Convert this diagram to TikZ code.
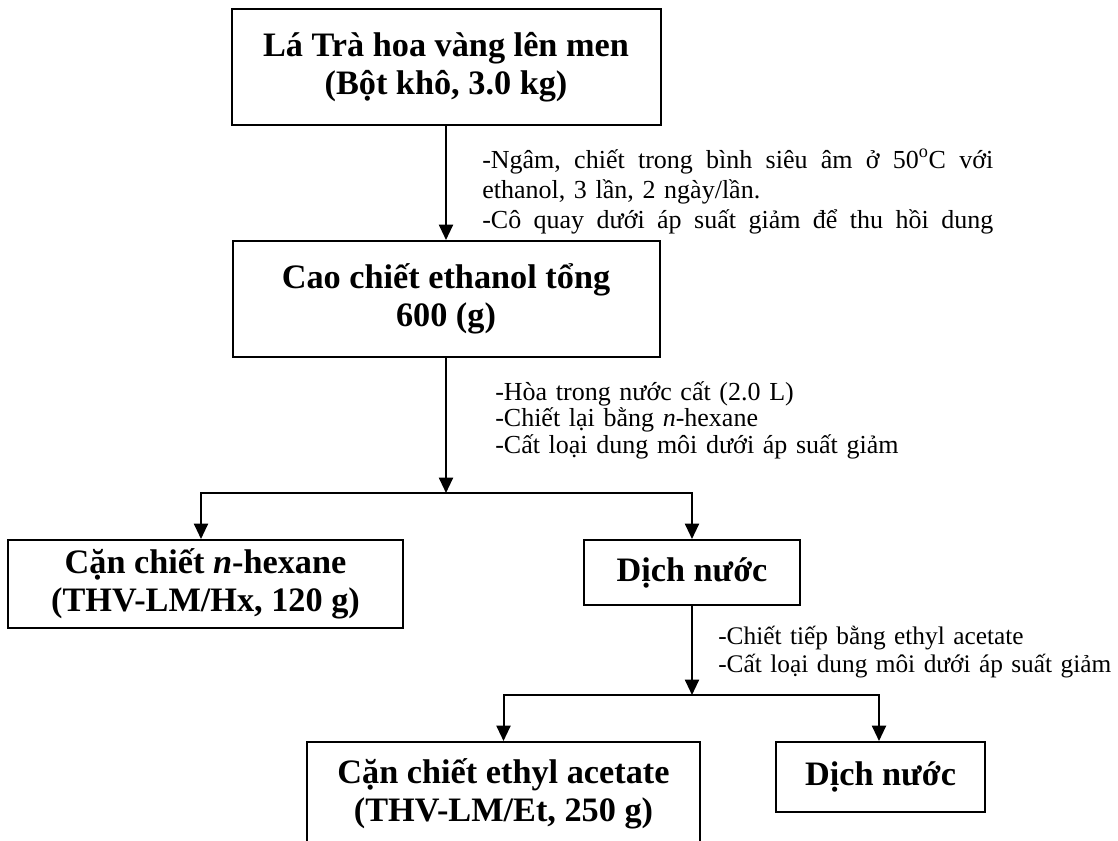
\documentclass[tikz,border=0pt]{standalone}
\usepackage{fontspec}
\setmainfont{Liberation Serif}
\usetikzlibrary{arrows.meta}

\begin{document}
\begin{tikzpicture}[x=0.75pt,y=0.75pt]
\tikzstyle{every node}+=[inner sep=0pt]
\tikzstyle{box}=[draw=black, line width=1.5pt, align=center, font=\bfseries\fontsize{25.7}{28.5}\selectfont]
\tikzstyle{note}=[anchor=base west, align=left, font=\fontsize{19.5}{20}\selectfont]
\tikzstyle{arr}=[black, line width=1.5pt, -{Triangle[length=11.5pt,width=10.5pt]}]
\useasboundingbox (0,0) rectangle (1118,-840);
\clip (0,0) rectangle (1118,-840);
\node [box, minimum width=321.75pt, minimum height=87pt] (la) at (446,-67) {Lá Trà hoa vàng lên men\\(Bột khô, 3.0 kg)};
\node [box, minimum width=320.25pt, minimum height=87pt] (cao) at (446,-299) {Cao chiết ethanol tổng\\600 (g)};
\node [box, minimum width=296.25pt, minimum height=66pt] (hex) at (205.5,-584) {Cặn chiết \textit{n}-hexane\\(THV-LM/Hx, 120 g)};
\node [box, minimum width=162pt, minimum height=48.75pt] (nuoc1) at (692,-572.5) {Dịch nước};
\node [box, minimum width=294.75pt, minimum height=78pt] (eth) at (503.5,-794) {Cặn chiết ethyl acetate\\(THV-LM/Et, 250 g)};
\node [box, minimum width=156.75pt, minimum height=52.5pt] (nuoc2) at (880.5,-777) {Dịch nước};
\coordinate (s1) at (446,-493);
\coordinate (s1l) at (201,-493);
\coordinate (s1r) at (692,-493);
\coordinate (s2) at (692,-695);
\coordinate (s2l) at (503.5,-695);
\coordinate (s2r) at (879,-695);
\draw [arr] (la) -- (cao);
\draw [arr] (cao) -- (s1);
\draw [arr] (s1) -- (s1l) -- (s1l |- hex.north);
\draw [arr] (s1) -- (s1r) -- (nuoc1);
\draw [arr] (nuoc1) -- (s2);
\draw [arr] (s2) -- (s2l) -- (eth);
\draw [arr] (s2) -- (s2r) -- (s2r |- nuoc2.north);
\node [note, text width=383.25pt, font=\fontsize{19.5}{22.5}\selectfont] (buoc1) at (482,-168) {\makebox[383.25pt][l]{-Ngâm,\hfill chiết\hfill trong\hfill bình\hfill siêu\hfill âm\hfill ở\hfill 50\textsuperscript{o}C\hfill với}\\ethanol, 3 lần, 2 ngày/lần.\\\makebox[383.25pt][l]{-Cô\hfill quay\hfill dưới\hfill áp\hfill suất\hfill giảm\hfill để\hfill thu\hfill hồi\hfill dung}};
\node [note, text width=330pt] (buoc2) at (495,-400) {-Hòa trong nước cất (2.0 L)\\-Chiết lại bằng \textit{n}-hexane\\-Cất loại dung môi dưới áp suất giảm};
\node [note, text width=294pt, font=\fontsize{19}{21}\selectfont] (buoc3) at (718,-644) {\mbox{-Chiết tiếp bằng ethyl acetate}\\\mbox{-Cất loại dung môi dưới áp suất giảm}};
\end{tikzpicture}
\end{document}
